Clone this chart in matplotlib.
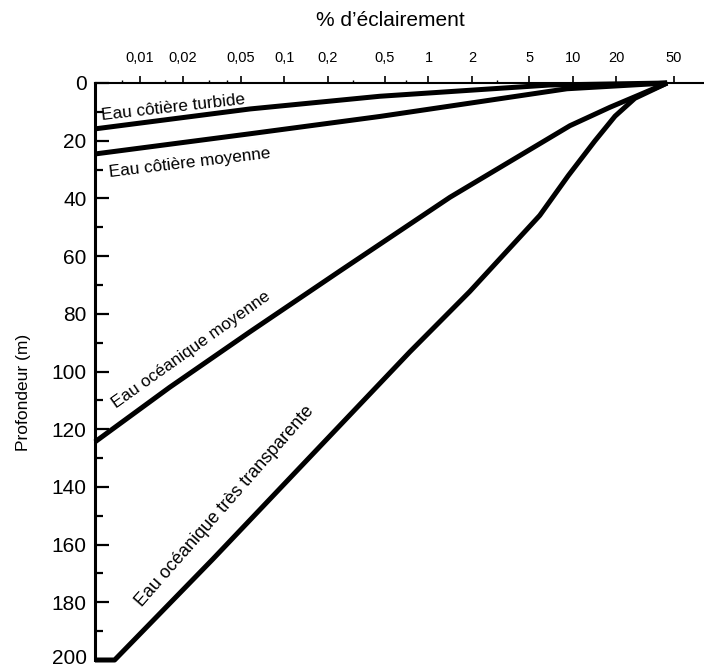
import matplotlib
matplotlib.use("Agg")
import matplotlib.pyplot as plt
import matplotlib.transforms as mtransforms
from matplotlib.ticker import FixedLocator, NullFormatter

plt.rcParams["font.family"] = ["Liberation Sans", "DejaVu Sans"]

# light level (% of surface) vs depth (m) for each water type
turbid_pct = [0.0049, 0.058, 0.46, 2.25, 6.9, 45]
turbid_depth = [15.9, 9.0, 4.6, 2.3, 0.7, 0]

coastal_pct = [0.0049, 0.058, 0.46, 2.25, 9.1, 45]
coastal_depth = [24.6, 17.6, 11.6, 6.5, 2.0, 0]

ocean_pct = [0.0049, 0.0161, 0.0578, 0.243, 1.41, 9.55, 18.1, 29.2, 45]
ocean_depth = [124.4, 105.5, 86.3, 65.2, 39.6, 14.8, 8.4, 4.0, 0]

clear_pct = [0.0049, 0.0067, 0.0320, 0.743, 1.93, 5.9, 9.3, 14.2, 19.6, 26.9, 45]
clear_depth = [200, 200, 165.1, 93.2, 72.3, 45.9, 32.1, 20.1, 11.5, 5.3, 0]

x_ticks = [0.01, 0.02, 0.05, 0.1, 0.2, 0.5, 1, 2, 5, 10, 20, 50]
x_labels = ["0,01", "0,02", "0,05", "0,1", "0,2", "0,5", "1", "2", "5", "10", "20", "50"]
y_ticks = list(range(0, 201, 20))

# label text, anchor (pct, depth), screen rotation, size
labels = [
    ("Eau côtière turbide", 0.0172, 8.5, 6.4, 12.3),
    ("Eau côtière moyenne", 0.0222, 27.7, 6.8, 12.3),
    ("Eau océanique moyenne", 0.0226, 92.4, 35.4, 12.3),
    ("Eau océanique très transparente", 0.0388, 146.8, 48.7, 13),
]


def main():
    W, H = 704, 668
    fig = plt.figure(figsize=(W / 100, H / 100), dpi=100)
    ax = fig.add_axes([95 / W, 8 / H, 609 / W, 577 / H])

    ax.set_xscale("log")
    ax.set_xlim(0.0049, 81)
    ax.set_ylim(200, 0)

    for xs, ys in [(turbid_pct, turbid_depth), (coastal_pct, coastal_depth),
                   (ocean_pct, ocean_depth), (clear_pct, clear_depth)]:
        ax.plot(xs, ys, color="black", lw=3.6, solid_joinstyle="round",
                solid_capstyle="butt", clip_on=False, zorder=3)

    for text, x, y, rot, size in labels:
        ax.text(x, y, text, rotation=rot, rotation_mode="anchor",
                ha="center", va="center", fontsize=size)

    # spines: only left and top
    ax.spines["right"].set_visible(False)
    ax.spines["bottom"].set_visible(False)
    ax.spines["left"].set_linewidth(2.2)
    ax.spines["top"].set_linewidth(1.5)

    # x axis on top
    ax.xaxis.tick_top()
    ax.xaxis.set_major_locator(FixedLocator(x_ticks))
    ax.set_xticklabels(x_labels)
    ax.xaxis.set_minor_locator(FixedLocator([0.0075, 0.015, 0.03, 0.04, 0.3, 0.7, 3]))
    ax.xaxis.set_minor_formatter(NullFormatter())
    ax.tick_params(axis="x", which="major", direction="out", length=5,
                   width=1.2, pad=8, labelsize=10.5)
    ax.tick_params(axis="x", which="minor", direction="out", length=2, width=1)

    # y axis: depth
    ax.set_yticks(y_ticks)
    ax.yaxis.set_minor_locator(FixedLocator(list(range(10, 200, 20))))
    ax.tick_params(axis="y", which="major", direction="in", length=10,
                   width=1.6, pad=6, labelsize=15)
    ax.tick_params(axis="y", which="minor", direction="in", length=6, width=1.6)

    # nudge the bottom label up so it stays inside the canvas
    last = ax.get_yticklabels()[-1]
    last.set_transform(last.get_transform() +
                       mtransforms.ScaledTranslation(0, 3 / 100, fig.dpi_scale_trans))

    ax.set_ylabel("Profondeur (m)", fontsize=12.5)
    ax.yaxis.set_label_coords(-0.105, 0.463)

    fig.text(390 / W, 1 - 20 / H, "% d’éclairement", ha="center", va="center",
             fontsize=15)

    fig.savefig("out.png", dpi=100)
    plt.close(fig)


if __name__ == "__main__":
    main()
